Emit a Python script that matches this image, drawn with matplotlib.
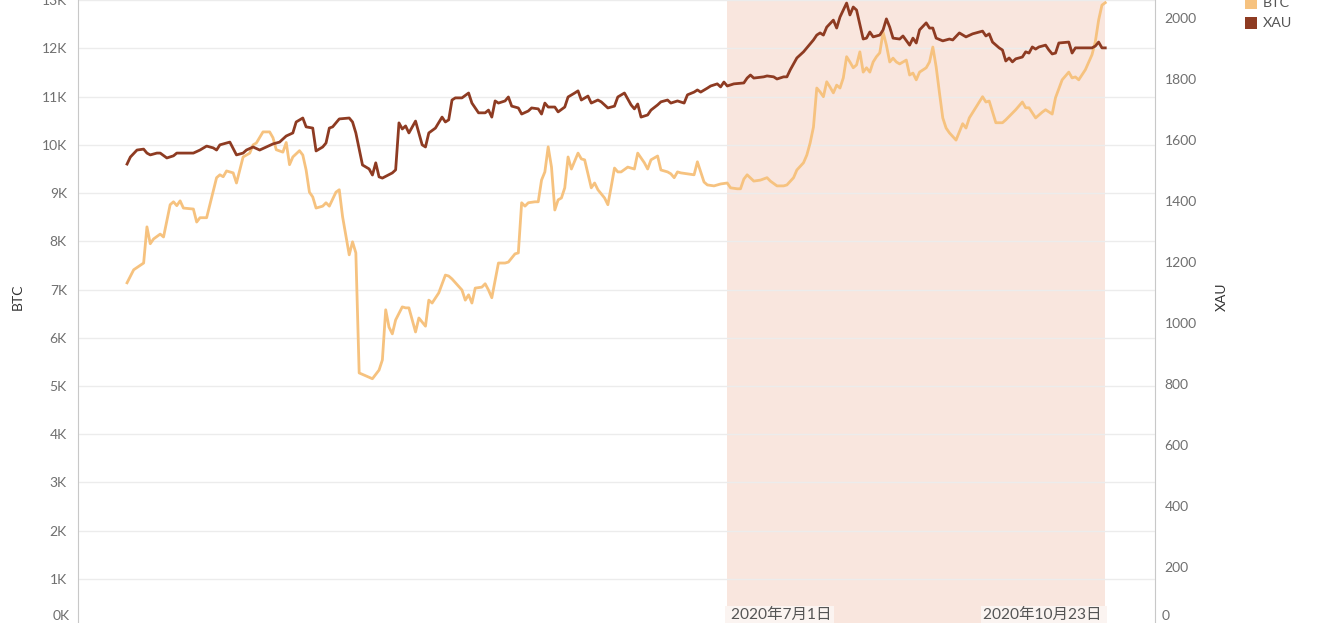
import numpy as np
import pandas as pd
import matplotlib
matplotlib.use("Agg")
import matplotlib.pyplot as plt
from matplotlib.patches import Rectangle

plt.rcParams['font.family'] = ['Lato', 'Noto Sans CJK SC', 'DejaVu Sans']

# BTC (USD), dates in 2020
btc_days = [
    "01-02", "01-04", "01-07", "01-08", "01-09", "01-10", "01-12", "01-13", "01-15", "01-16",
    "01-17", "01-18", "01-19", "01-22", "01-23", "01-24", "01-26", "01-29", "01-30", "01-31",
    "02-01", "02-03", "02-04", "02-06", "02-08", "02-09", "02-10", "02-12", "02-14", "02-15",
    "02-16", "02-18", "02-19", "02-20", "02-21", "02-23", "02-24", "02-25", "02-26", "02-27",
    "02-28", "03-01", "03-02", "03-03", "03-05", "03-06", "03-07", "03-09", "03-10", "03-11",
    "03-12", "03-14", "03-16", "03-18", "03-19", "03-20", "03-21", "03-22", "03-23", "03-25",
    "03-26", "03-27", "03-29", "03-30", "04-01", "04-02", "04-03", "04-05", "04-07", "04-08",
    "04-09", "04-12", "04-13", "04-14", "04-15", "04-16", "04-18", "04-19", "04-20", "04-21",
    "04-23", "04-25", "04-26", "04-28", "04-29", "04-30", "05-01", "05-02", "05-04", "05-05",
    "05-06", "05-07", "05-08", "05-09", "05-10", "05-11", "05-12", "05-13", "05-14", "05-15",
    "05-17", "05-18", "05-19", "05-21", "05-22", "05-23", "05-25", "05-26", "05-27", "05-28",
    "05-29", "05-30", "06-01", "06-03", "06-04", "06-06", "06-07", "06-08", "06-10", "06-11",
    "06-13", "06-14", "06-15", "06-16", "06-17", "06-19", "06-21", "06-22", "06-24", "06-25",
    "06-27", "06-29", "07-01", "07-02", "07-04", "07-05", "07-06", "07-07", "07-09", "07-11",
    "07-13", "07-14", "07-16", "07-18", "07-19", "07-21", "07-22", "07-24", "07-25", "07-26",
    "07-27", "07-28", "07-29", "07-30", "07-31", "08-01", "08-02", "08-03", "08-04", "08-05",
    "08-06", "08-07", "08-08", "08-09", "08-10", "08-11", "08-12", "08-13", "08-14", "08-15",
    "08-16", "08-17", "08-18", "08-19", "08-20", "08-21", "08-22", "08-24", "08-25", "08-26",
    "08-27", "08-28", "08-30", "08-31", "09-01", "09-02", "09-03", "09-04", "09-05", "09-06",
    "09-08", "09-10", "09-11", "09-12", "09-16", "09-17", "09-18", "09-20", "09-22", "09-23",
    "09-26", "09-28", "09-29", "09-30", "10-02", "10-04", "10-05", "10-07", "10-08", "10-10",
    "10-12", "10-13", "10-14", "10-15", "10-17", "10-19", "10-20", "10-21", "10-22", "10-23",
]
btc_vals = [
    7140, 7410, 7550, 8300, 7950, 8050, 8150, 8090, 8760, 8820,
    8740, 8840, 8690, 8670, 8400, 8490, 8490, 9320, 9380, 9340,
    9460, 9420, 9210, 9750, 9830, 10000, 10040, 10270, 10270, 10150,
    9900, 9850, 10050, 9590, 9750, 9880, 9790, 9480, 9020, 8920,
    8690, 8730, 8800, 8730, 9020, 9070, 8510, 7720, 7990, 7760,
    5270, 5210, 5150, 5330, 5540, 6580, 6220, 6080, 6370, 6640,
    6620, 6620, 6120, 6410, 6240, 6780, 6720, 6930, 7300, 7280,
    7220, 6990, 6780, 6890, 6720, 7030, 7050, 7120, 6990, 6830,
    7550, 7550, 7570, 7740, 7760, 8800, 8730, 8800, 8820, 8820,
    9270, 9440, 9960, 9540, 8650, 8860, 8900, 9110, 9750, 9500,
    9830, 9710, 9690, 9110, 9210, 9070, 8900, 8760, 9130, 9520,
    9440, 9440, 9540, 9500, 9830, 9630, 9500, 9690, 9770, 9480,
    9440, 9400, 9320, 9440, 9420, 9400, 9380, 9650, 9230, 9170,
    9150, 9190, 9210, 9110, 9090, 9090, 9290, 9380, 9250, 9270,
    9320, 9250, 9150, 9150, 9170, 9320, 9480, 9630, 9790, 10040,
    10370, 11180, 11100, 11000, 11310, 11200, 11080, 11240, 11180, 11390,
    11830, 11720, 11600, 11660, 11930, 11510, 11600, 11510, 11720, 11830,
    11910, 12340, 12070, 11720, 11800, 11720, 11680, 11760, 11450, 11490,
    11350, 11510, 11600, 11720, 12030, 11620, 11080, 10560, 10350, 10250,
    10100, 10440, 10350, 10560, 11000, 10890, 10910, 10460, 10460, 10520,
    10730, 10890, 10770, 10770, 10560, 10680, 10730, 10640, 10980, 11350,
    11510, 11390, 11410, 11350, 11560, 11870, 12140, 12590, 12900, 12950,
]

# XAU (USD/oz), dates in 2020
xau_days = [
    "01-02", "01-03", "01-05", "01-07", "01-08", "01-09", "01-11", "01-12", "01-14", "01-16",
    "01-17", "01-20", "01-22", "01-24", "01-26", "01-28", "01-29", "01-30", "02-01", "02-02",
    "02-04", "02-06", "02-07", "02-09", "02-11", "02-13", "02-15", "02-17", "02-19", "02-21",
    "02-22", "02-24", "02-25", "02-27", "02-28", "03-01", "03-02", "03-03", "03-04", "03-06",
    "03-09", "03-10", "03-11", "03-13", "03-15", "03-16", "03-17", "03-18", "03-19", "03-22",
    "03-23", "03-24", "03-25", "03-26", "03-27", "03-29", "03-30", "03-31", "04-01", "04-02",
    "04-04", "04-06", "04-07", "04-08", "04-09", "04-10", "04-12", "04-14", "04-15", "04-17",
    "04-19", "04-20", "04-21", "04-22", "04-23", "04-25", "04-26", "04-27", "04-29", "04-30",
    "05-02", "05-03", "05-05", "05-06", "05-07", "05-08", "05-10", "05-11", "05-13", "05-14",
    "05-16", "05-17", "05-18", "05-20", "05-21", "05-23", "05-24", "05-26", "05-28", "05-29",
    "05-31", "06-02", "06-03", "06-04", "06-05", "06-07", "06-08", "06-10", "06-11", "06-13",
    "06-14", "06-16", "06-18", "06-19", "06-21", "06-22", "06-23", "06-25", "06-26", "06-28",
    "06-29", "06-30", "07-01", "07-03", "07-06", "07-07", "07-08", "07-09", "07-12", "07-13",
    "07-15", "07-16", "07-18", "07-19", "07-20", "07-22", "07-24", "07-25", "07-27", "07-28",
    "07-29", "07-30", "07-31", "08-02", "08-03", "08-04", "08-06", "08-07", "08-08", "08-09",
    "08-11", "08-12", "08-13", "08-14", "08-16", "08-17", "08-18", "08-19", "08-20", "08-22",
    "08-23", "08-25", "08-26", "08-27", "08-28", "08-30", "08-31", "09-01", "09-02", "09-04",
    "09-06", "09-07", "09-09", "09-11", "09-13", "09-16", "09-17", "09-18", "09-19", "09-21",
    "09-22", "09-23", "09-24", "09-25", "09-26", "09-28", "09-29", "09-30", "10-01", "10-02",
    "10-03", "10-05", "10-06", "10-07", "10-08", "10-09", "10-12", "10-13", "10-14", "10-17",
    "10-19", "10-20", "10-21", "10-22", "10-23",
]
xau_vals = [
    1521, 1544, 1567, 1570, 1557, 1551, 1557, 1557, 1541, 1548,
    1557, 1557, 1557, 1567, 1580, 1574, 1567, 1584, 1590, 1593,
    1551, 1557, 1567, 1577, 1567, 1577, 1587, 1593, 1613, 1623,
    1659, 1672, 1643, 1639, 1564, 1577, 1590, 1639, 1643, 1669,
    1672, 1659, 1623, 1518, 1505, 1485, 1525, 1479, 1475, 1492,
    1502, 1656, 1636, 1646, 1623, 1662, 1623, 1584, 1577, 1623,
    1639, 1675, 1659, 1666, 1731, 1738, 1738, 1754, 1721, 1689,
    1689, 1698, 1675, 1728, 1721, 1728, 1741, 1711, 1705, 1685,
    1695, 1705, 1702, 1685, 1721, 1708, 1708, 1692, 1708, 1741,
    1754, 1761, 1731, 1744, 1721, 1731, 1725, 1705, 1711, 1741,
    1754, 1715, 1702, 1718, 1675, 1682, 1698, 1715, 1725, 1731,
    1721, 1728, 1721, 1748, 1757, 1764, 1757, 1770, 1777, 1784,
    1774, 1790, 1777, 1784, 1787, 1803, 1813, 1803, 1807, 1810,
    1807, 1800, 1807, 1807, 1830, 1869, 1889, 1902, 1928, 1944,
    1951, 1944, 1970, 1993, 1967, 2003, 2049, 2010, 2036, 2026,
    1931, 1934, 1954, 1938, 1944, 1961, 1997, 1970, 1934, 1931,
    1941, 1911, 1934, 1918, 1961, 1984, 1967, 1967, 1934, 1925,
    1931, 1928, 1951, 1938, 1948, 1957, 1941, 1948, 1921, 1902,
    1895, 1859, 1869, 1856, 1866, 1872, 1889, 1885, 1905, 1898,
    1905, 1911, 1895, 1882, 1885, 1918, 1921, 1885, 1902, 1902,
    1902, 1908, 1921, 1902, 1902,
]

btc_ticks = list(range(1000, 13001, 1000))
btc_tick_labels = [f"{v // 1000}K" for v in btc_ticks]
xau_ticks = list(range(200, 2001, 200))

band_start, band_end = "2020-07-01", "2020-10-23"
band_labels = ["2020年7月1日", "2020年10月23日"]

BTC_COLOR = "#f6c27f"
XAU_COLOR = "#8e3b22"
TICK_COLOR = "#6f6f6f"

btc_x = pd.to_datetime(["2020-" + d for d in btc_days])
xau_x = pd.to_datetime(["2020-" + d for d in xau_days])

fig = plt.figure(figsize=(13.2, 6.23), dpi=100)
ax = fig.add_axes([78 / 1320, 0, (1155 - 78) / 1320, 1])
ax2 = ax.twinx()

ax.axvspan(pd.Timestamp(band_start), pd.Timestamp(band_end), color="#f9e6de", lw=0, zorder=0)
ax.plot(btc_x, btc_vals, color=BTC_COLOR, lw=2.0, solid_joinstyle="round", zorder=3)
ax2.plot(xau_x, xau_vals, color=XAU_COLOR, lw=2.0, solid_joinstyle="round", zorder=3)

ax.set_xlim(pd.Timestamp("2019-12-18 05:00"), pd.Timestamp("2020-11-07"))
ax.set_ylim(83, 13006)
ax2.set_ylim(16, 2059)

ax.set_yticks(btc_ticks)
ax.set_yticklabels(btc_tick_labels)
ax2.set_yticks(xau_ticks)
ax.set_xticks([])

ax.grid(axis="y", color="#ececec", lw=1.0, zorder=0.5)
ax.set_axisbelow(True)

for a in (ax, ax2):
    for s in ("top", "bottom"):
        a.spines[s].set_visible(False)
ax.spines["right"].set_visible(False)
ax2.spines["left"].set_visible(False)
ax.spines["left"].set_color("#c8c8c8")
ax2.spines["right"].set_color("#c8c8c8")

ax.tick_params(axis="y", length=0, pad=8, labelsize=10, labelcolor=TICK_COLOR)
ax2.tick_params(axis="y", length=0, pad=7, labelsize=10, labelcolor=TICK_COLOR)

# the zero labels sit just below the visible range, pinned inside the picture
ax.annotate("0K", xy=(0, 0), xycoords=ax.get_yaxis_transform(), xytext=(-5.8, 7.9),
            textcoords="offset points", ha="right", va="center", fontsize=10,
            color=TICK_COLOR, annotation_clip=False)
ax2.annotate("0", xy=(1, 0), xycoords=ax2.get_yaxis_transform(), xytext=(5.0, 8.6),
             textcoords="offset points", ha="left", va="center", fontsize=10,
             color=TICK_COLOR, annotation_clip=False)

ax.set_ylabel("BTC", fontsize=10, color="#333333")
ax.yaxis.set_label_coords(-0.0501, 0.523)
ax2.set_ylabel("XAU", fontsize=10, color="#333333", rotation=90)
ax2.yaxis.set_label_coords(1.0567, 0.523)

# band edge labels
box = dict(facecolor="#fbf4f1", edgecolor="none", pad=1.5)
ax.text(pd.Timestamp(band_start), 0.013, " " + band_labels[0], transform=ax.get_xaxis_transform(),
        ha="left", va="center", fontsize=11.2, color="#555555", bbox=box, zorder=5)
ax.text(pd.Timestamp(band_end), 0.013, band_labels[1] + " ", transform=ax.get_xaxis_transform(),
        ha="right", va="center", fontsize=11.2, color="#555555", bbox=box, zorder=5)

# legend
for i, (name, col) in enumerate([("BTC", BTC_COLOR), ("XAU", XAU_COLOR)]):
    yc = 1 - (3 + 20 * i) / 623
    fig.patches.append(Rectangle((1245 / 1320, yc - 6 / 623), 12 / 1320, 12 / 623,
                                 transform=fig.transFigure, facecolor=col, edgecolor="none"))
    fig.text(1263 / 1320, yc, name, fontsize=10.3, color="#555555", va="center", ha="left")

fig.savefig("out.png", dpi=100)
